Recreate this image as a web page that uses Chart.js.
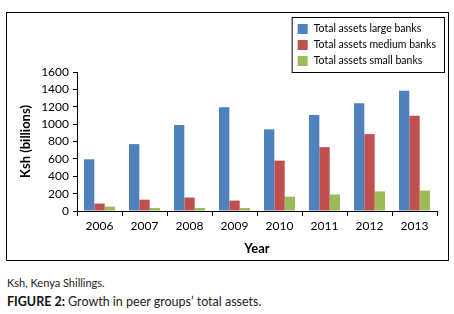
<!DOCTYPE html>
<html>
<head>
<meta charset="utf-8">
<script src="https://cdn.jsdelivr.net/npm/chart.js@4"></script>
<style>
  html, body { margin: 0; padding: 0; background: #fff; }
  #wrap { position: relative; width: 454px; height: 314px; overflow: hidden; font-family: Lato, "Liberation Sans", sans-serif; }
  #c { position: absolute; left: 0; top: 0; }
  #frame { position: absolute; left: 6px; top: 12px; width: 441px; height: 247px; border: 1px solid #000; }
  .cap1 { position: absolute; left: 7px; top: 276px; font-size: 11px; color: #222; }
  .cap2 { position: absolute; left: 7px; top: 294px; font-size: 12.5px; color: #222; }
  .cap2 b { color: #111; }
</style>
</head>
<body>
<div id="wrap">
  <div id="frame"></div>
  <canvas id="c" width="454" height="262"></canvas>
  <div class="cap1">Ksh, Kenya Shillings.</div>
  <div class="cap2"><b>FIGURE 2:</b> Growth in peer groups’ total assets.</div>
</div>
<script>
const years = ['2006','2007','2008','2009','2010','2011','2012','2013'];
const seriesNames = ['Total assets large banks','Total assets medium banks','Total assets small banks'];
const largeBanks  = [595, 770, 990, 1195, 940, 1105, 1240, 1385];
const mediumBanks = [85, 130, 155, 120, 580, 735, 885, 1095];
const smallBanks  = [50, 35, 35, 35, 165, 190, 225, 235];
const colors = ['#4F81BD', '#C0504D', '#9BBB59'];

const legendBox = {
  id: 'legendBox',
  afterDraw(chart) {
    const ctx = chart.ctx;
    const ca = chart.chartArea;
    ctx.save();
    ctx.font = '10.5px Lato, "Liberation Sans", sans-serif';
    let maxW = 0;
    chart.data.datasets.forEach(d => { maxW = Math.max(maxW, ctx.measureText(d.label).width); });
    const right = ca.right + 7;
    const bottom = ca.top;
    const w = Math.max(149, maxW + 30);
    const h = 55;
    const left = right - w;
    const top = bottom - h;
    ctx.strokeStyle = '#000';
    ctx.lineWidth = 1;
    ctx.strokeRect(left + 0.5, top + 0.5, w, h);
    ctx.textBaseline = 'middle';
    chart.data.datasets.forEach((d, i) => {
      const cy = top + 12 + i * 16;
      ctx.fillStyle = d.backgroundColor;
      ctx.fillRect(left + 6, cy - 5, 10, 10);
      ctx.fillStyle = '#000';
      ctx.fillText(d.label, left + 22, cy);
    });
    ctx.restore();
  }
};

new Chart(document.getElementById('c'), {
  type: 'bar',
  data: {
    labels: years,
    datasets: [
      { label: seriesNames[0], data: largeBanks, backgroundColor: colors[0] },
      { label: seriesNames[1], data: mediumBanks, backgroundColor: colors[1] },
      { label: seriesNames[2], data: smallBanks, backgroundColor: colors[2] }
    ]
  },
  options: {
    responsive: false,
    animation: false,
    layout: { padding: { left: 10, right: 17, top: 72, bottom: 5 } },
    datasets: { bar: { categoryPercentage: 0.69, barPercentage: 1.0 } },
    plugins: { legend: { display: false }, tooltip: { enabled: false } },
    scales: {
      x: {
        grid: { drawOnChartArea: false, drawTicks: true, tickLength: 5, color: '#000', offset: true },
        border: { display: true, color: '#000', width: 1 },
        ticks: { color: '#000', font: { family: 'Lato', size: 12 }, padding: 3 },
        title: { display: true, text: 'Year', color: '#000', font: { family: 'Lato', size: 13, weight: 'bold' }, padding: 0 },
        afterFit(s) { s.height = 46; }
      },
      y: {
        min: 0, max: 1600,
        grid: { drawOnChartArea: false, drawTicks: true, tickLength: 4, color: '#000' },
        border: { display: true, color: '#000', width: 1 },
        ticks: { stepSize: 200, autoSkip: false, color: '#000', font: { family: 'Lato', size: 12 }, padding: 4,
                 callback: v => String(v) },
        title: { display: true, text: 'Ksh (billions)', color: '#000', font: { family: 'Lato', size: 13, weight: 'bold' }, padding: { top: 8, bottom: 0 } },
        afterFit(s) { s.width = 67; }
      }
    }
  },
  plugins: [legendBox]
});
</script>
</body>
</html>
